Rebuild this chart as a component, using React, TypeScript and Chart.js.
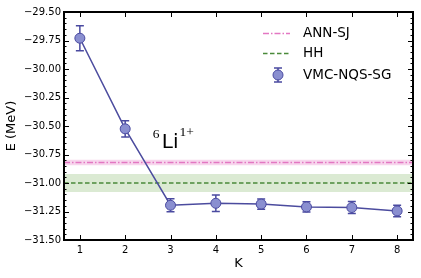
import React, { useEffect, useRef } from "react";
import { Chart, registerables } from "chart.js";

Chart.register(...registerables);

const kValues = [1, 2, 3, 4, 5, 6, 7, 8];
const vmcEnergy = [-29.73, -30.525, -31.195, -31.178, -31.185, -31.21, -31.215, -31.245];
const vmcError = [0.11, 0.072, 0.057, 0.073, 0.045, 0.045, 0.052, 0.05];
const annValue = -30.82;
const annBand = 0.025;
const hhValue = -31.0;
const hhBand = 0.08;
const yTickValues = [-31.5, -31.25, -31.0, -30.75, -30.5, -30.25, -30.0, -29.75, -29.5];
const xRange = [0.65, 8.35];
const yRange = [-31.5, -29.5];
const seriesLabels = ["VMC-NQS-SG", "ANN-SJ", "HH"];

const FONT = "'DejaVu Sans', sans-serif";
const LINE_COLOR = "#4b4b9e";
const EDGE_COLOR = "#4a4aa0";
const FILL_COLOR = "#8a8fd0";
const PINK = "#e377c2";
const GREEN = "#4a8a3a";

const fmt = (v: number) => v.toFixed(2).replace("-", "\u2212");

const decorPlugin = {
  id: "decor",
  beforeDatasetDraw(chart: any, args: any) {
    if (args.index !== 0) return;
    const { ctx, scales } = chart;
    const xs = scales.x, ys = scales.y;
    ctx.save();
    ctx.strokeStyle = EDGE_COLOR;
    ctx.lineWidth = 1.5;
    kValues.forEach((k, i) => {
      const px = xs.getPixelForValue(k);
      const top = ys.getPixelForValue(vmcEnergy[i] + vmcError[i]);
      const bot = ys.getPixelForValue(vmcEnergy[i] - vmcError[i]);
      ctx.beginPath();
      ctx.moveTo(px, top);
      ctx.lineTo(px, bot);
      ctx.moveTo(px - 4, top);
      ctx.lineTo(px + 4, top);
      ctx.moveTo(px - 4, bot);
      ctx.lineTo(px + 4, bot);
      ctx.stroke();
    });
    ctx.restore();
  },
  afterDraw(chart: any) {
    const { ctx, chartArea: a, scales } = chart;
    const xs = scales.x, ys = scales.y;
    ctx.save();
    // ticks
    ctx.strokeStyle = "#000";
    ctx.lineWidth = 1;
    ctx.beginPath();
    kValues.forEach((k) => {
      const px = Math.round(xs.getPixelForValue(k)) + 0.5;
      ctx.moveTo(px, a.bottom);
      ctx.lineTo(px, a.bottom - 5);
      ctx.moveTo(px, a.top);
      ctx.lineTo(px, a.top + 5);
    });
    yTickValues.forEach((v, i) => {
      const py = Math.round(ys.getPixelForValue(v)) + 0.5;
      ctx.moveTo(a.left, py);
      ctx.lineTo(a.left + 5, py);
      ctx.moveTo(a.right, py);
      ctx.lineTo(a.right - 5, py);
      if (i < yTickValues.length - 1) {
        const step = (yTickValues[i + 1] - v) / 5;
        for (let m = 1; m < 5; m++) {
          const my = Math.round(ys.getPixelForValue(v + step * m)) + 0.5;
          ctx.moveTo(a.left, my);
          ctx.lineTo(a.left + 2.5, my);
          ctx.moveTo(a.right, my);
          ctx.lineTo(a.right - 2.5, my);
        }
      }
    });
    ctx.stroke();
    // frame
    ctx.lineWidth = 2;
    ctx.strokeRect(a.left, a.top, a.right - a.left, a.bottom - a.top);

    // annotation 6Li1+
    const ax = xs.getPixelForValue(2.61);
    const ay = ys.getPixelForValue(-30.693);
    ctx.fillStyle = "#000";
    ctx.textBaseline = "alphabetic";
    ctx.textAlign = "left";
    ctx.font = "13.5px 'Liberation Serif', serif";
    ctx.fillText("6", ax, ay - 10);
    ctx.font = "20px " + FONT;
    ctx.fillText("Li", ax + 9, ay);
    const liW = ctx.measureText("Li").width;
    ctx.font = "13.5px 'Liberation Serif', serif";
    ctx.fillText("1+", ax + 10 + liW, ay - 12);

    // legend
    const lx0 = a.right - 150;
    const lx1 = lx0 + 27;
    const tx = lx0 + 40;
    const rows = [a.top + 21.5, a.top + 41.5, a.top + 63];
    ctx.font = "13.5px " + FONT;
    ctx.textBaseline = "middle";
    // ANN-SJ
    ctx.strokeStyle = PINK;
    ctx.lineWidth = 1.5;
    ctx.setLineDash([6, 2, 1.5, 2]);
    ctx.beginPath();
    ctx.moveTo(lx0, rows[0]);
    ctx.lineTo(lx1, rows[0]);
    ctx.stroke();
    ctx.fillText(seriesLabels[1], tx, rows[0]);
    // HH
    ctx.strokeStyle = GREEN;
    ctx.setLineDash([4.5, 2.5]);
    ctx.beginPath();
    ctx.moveTo(lx0, rows[1]);
    ctx.lineTo(lx1, rows[1]);
    ctx.stroke();
    ctx.fillText(seriesLabels[2], tx, rows[1]);
    // VMC
    ctx.setLineDash([]);
    const mx = (lx0 + lx1) / 2 + 1.5;
    ctx.strokeStyle = EDGE_COLOR;
    ctx.beginPath();
    ctx.moveTo(mx, rows[2] - 7);
    ctx.lineTo(mx, rows[2] + 7);
    ctx.moveTo(mx - 4, rows[2] - 7);
    ctx.lineTo(mx + 4, rows[2] - 7);
    ctx.moveTo(mx - 4, rows[2] + 7);
    ctx.lineTo(mx + 4, rows[2] + 7);
    ctx.stroke();
    ctx.beginPath();
    ctx.arc(mx, rows[2], 5, 0, Math.PI * 2);
    ctx.fillStyle = FILL_COLOR;
    ctx.fill();
    ctx.lineWidth = 1;
    ctx.stroke();
    ctx.fillStyle = "#000";
    ctx.fillText(seriesLabels[0], tx, rows[2]);
    ctx.restore();
  },
};

const flat = (v: number) => [
  { x: xRange[0], y: v },
  { x: xRange[1], y: v },
];

export default function App() {
  const ref = useRef<HTMLCanvasElement | null>(null);
  useEffect(() => {
    document.body.style.margin = "0";
    if (!ref.current) return;
    const chart = new Chart(ref.current, {
      type: "line",
      data: {
        datasets: [
          {
            label: seriesLabels[0],
            data: kValues.map((k, i) => ({ x: k, y: vmcEnergy[i] })),
            borderColor: LINE_COLOR,
            borderWidth: 1.5,
            pointRadius: 5,
            pointBackgroundColor: FILL_COLOR,
            pointBorderColor: EDGE_COLOR,
            pointBorderWidth: 1,
            tension: 0,
          },
          {
            label: seriesLabels[1],
            data: flat(annValue),
            borderColor: PINK,
            borderWidth: 1.5,
            borderDash: [6, 2, 1.5, 2],
            pointRadius: 0,
          },
          {
            label: seriesLabels[2],
            data: flat(hhValue),
            borderColor: GREEN,
            borderWidth: 1.5,
            borderDash: [4.5, 2.5],
            pointRadius: 0,
          },
          {
            label: "annUpper",
            data: flat(annValue + annBand),
            borderWidth: 0,
            pointRadius: 0,
            fill: "+1",
            backgroundColor: "rgba(227,119,194,0.3)",
          },
          {
            label: "annLower",
            data: flat(annValue - annBand),
            borderWidth: 0,
            pointRadius: 0,
          },
          {
            label: "hhUpper",
            data: flat(hhValue + hhBand),
            borderWidth: 0,
            pointRadius: 0,
            fill: "+1",
            backgroundColor: "rgba(110,170,80,0.25)",
          },
          {
            label: "hhLower",
            data: flat(hhValue - hhBand),
            borderWidth: 0,
            pointRadius: 0,
          },
        ],
      },
      options: {
        animation: false,
        responsive: false,
        devicePixelRatio: 1,
        layout: { padding: { top: 12, right: 8, left: 0, bottom: 0 } },
        plugins: {
          legend: { display: false },
          tooltip: { enabled: false },
        },
        scales: {
          x: {
            type: "linear",
            min: xRange[0],
            max: xRange[1],
            grid: { display: false, drawTicks: false },
            border: { display: false },
            afterBuildTicks: (s: any) => {
              s.ticks = kValues.map((v) => ({ value: v }));
            },
            afterFit: (s: any) => {
              s.height = 38;
            },
            ticks: {
              color: "#000",
              font: { family: FONT, size: 10 },
              padding: 4,
              maxRotation: 0,
              callback: (v: any) => String(v),
            },
            title: {
              display: true,
              text: "K",
              color: "#000",
              font: { family: FONT, size: 13 },
              padding: { top: 0, bottom: 7 },
            },
          },
          y: {
            type: "linear",
            min: yRange[0],
            max: yRange[1],
            grid: { display: false, drawTicks: false },
            border: { display: false },
            afterBuildTicks: (s: any) => {
              s.ticks = yTickValues.map((v) => ({ value: v }));
            },
            afterFit: (s: any) => {
              s.width = 64;
            },
            ticks: {
              color: "#000",
              font: { family: FONT, size: 10 },
              padding: 3,
              callback: (v: any) => fmt(Number(v)),
            },
            title: {
              display: true,
              text: "E (MeV)",
              color: "#000",
              font: { family: FONT, size: 13 },
              padding: { top: 4, bottom: 0 },
            },
          },
        },
      },
      plugins: [decorPlugin],
    } as any);
    return () => chart.destroy();
  }, []);
  return (
    <div style={{ width: 421, height: 278 }}>
      <canvas ref={ref} width={421} height={278} />
    </div>
  );
}
